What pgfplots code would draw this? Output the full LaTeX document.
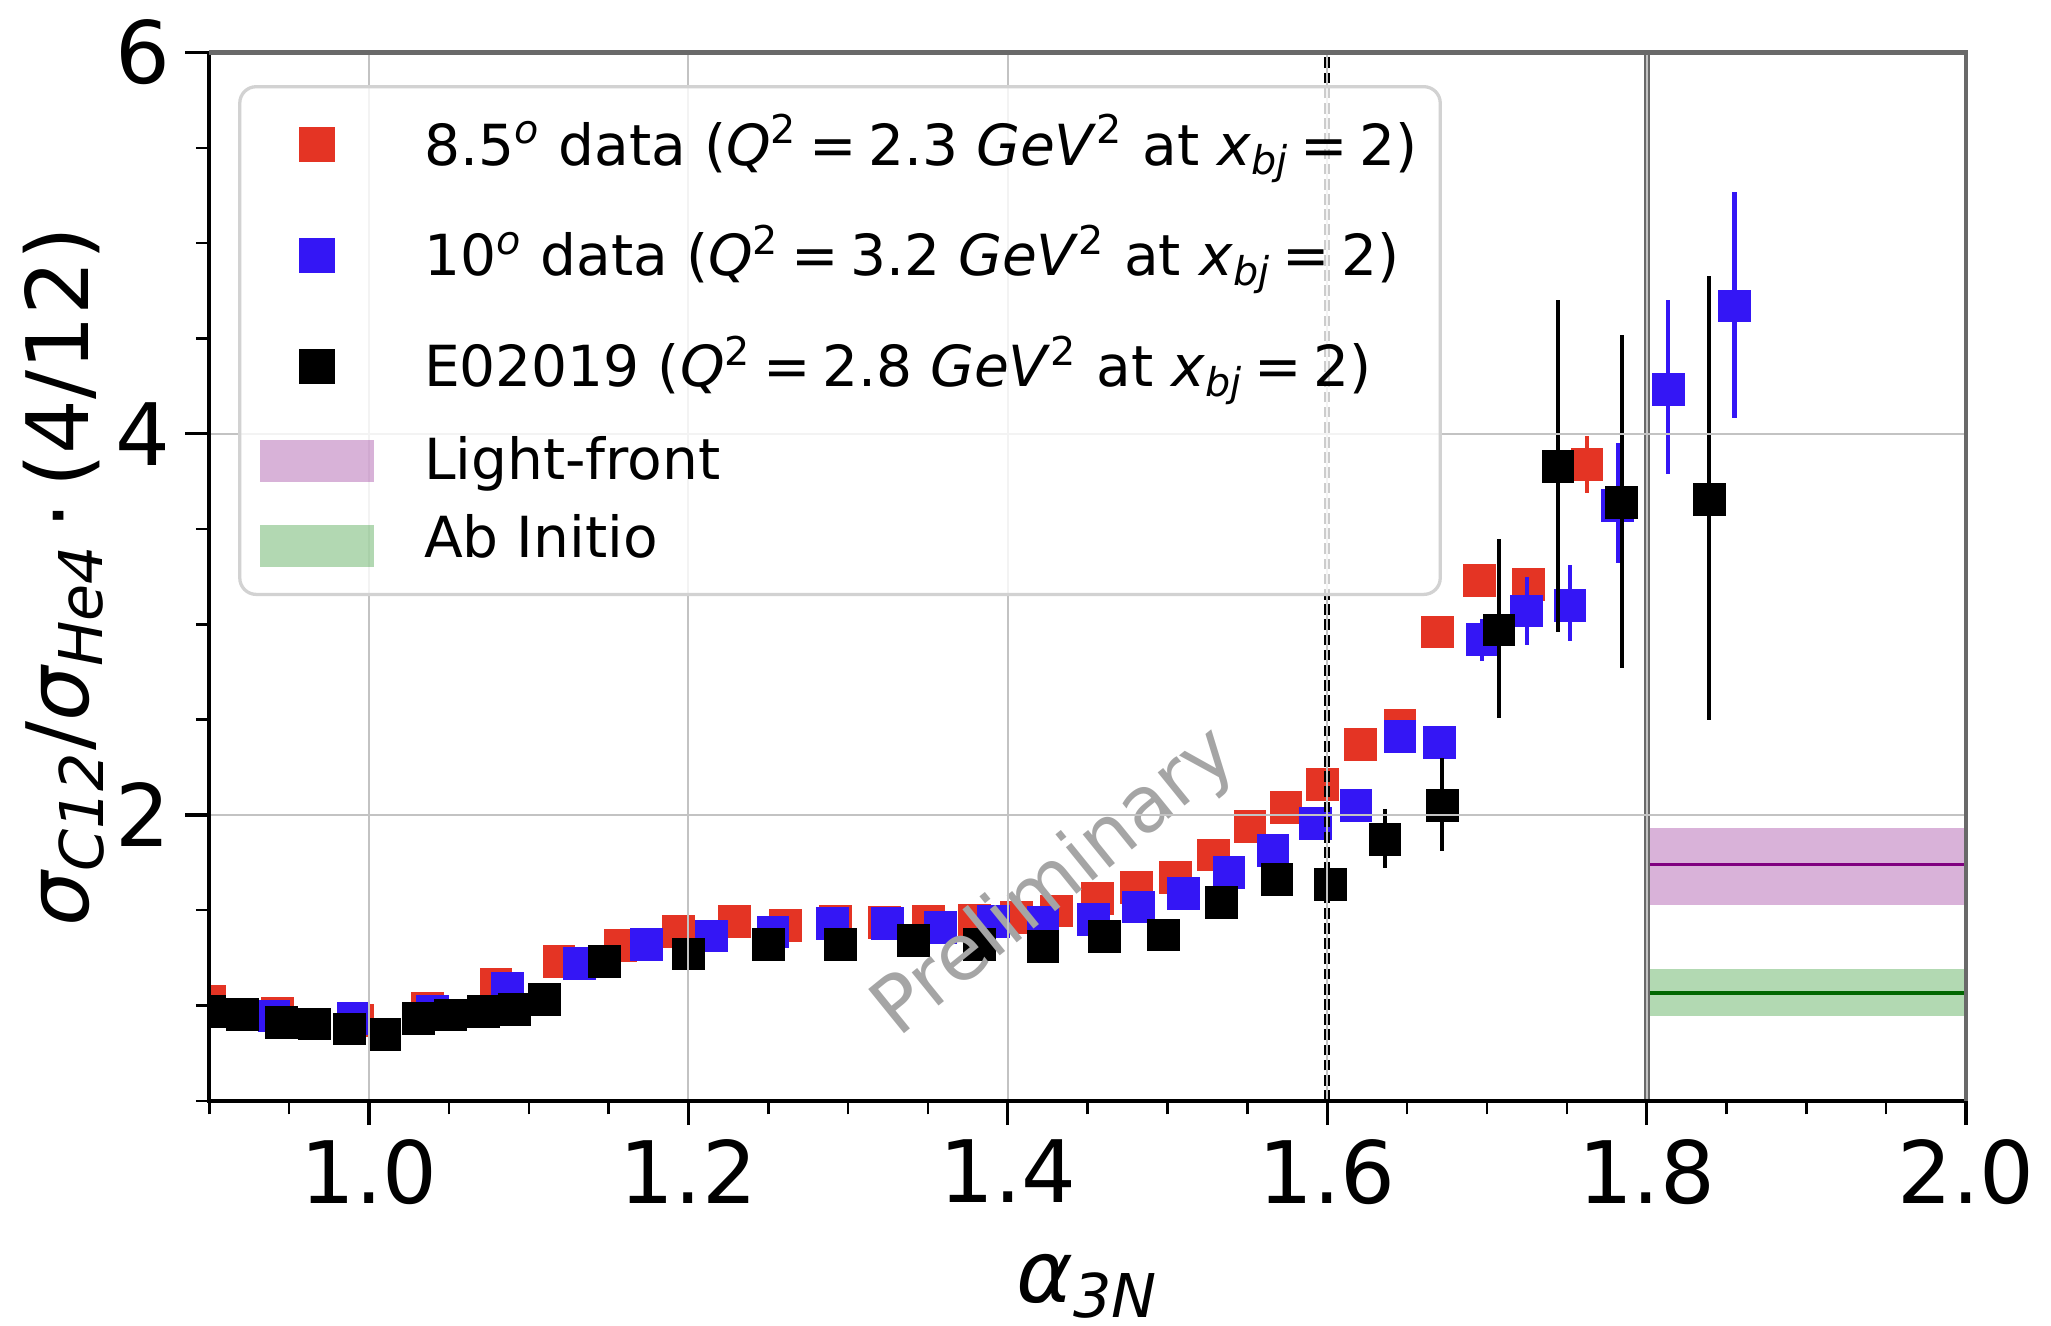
\documentclass[border=0pt]{standalone}
\usepackage{fontspec}
\setmainfont{DejaVu Sans}
\usepackage{pgfplots}
\pgfplotsset{compat=1.18}
\usepackage{pgfplotstable}

\definecolor{cred}{RGB}{228,52,36}
\definecolor{cblue}{RGB}{52,22,245}
\definecolor{lfpurple}{RGB}{128,0,128}
\definecolor{aigreen}{RGB}{0,128,0}
\definecolor{gridgray}{RGB}{195,195,195}
\definecolor{spinegray}{RGB}{105,105,105}

\pgfplotsset{
  sqleg/.style={legend image code/.code={\draw[mark repeat=2,mark phase=2,##1,fill opacity=1,draw opacity=1,sharp corners,mark size=4.1pt] plot coordinates {(0pt,0pt)(13.8pt,0pt)(27.6pt,0pt)};}},
  bandleg/.style={legend image code/.code={\fill[##1,sharp corners] (0pt,-5.1pt) rectangle (27.6pt,5.1pt);}},
}

\pgfplotstableread{
x y ep em
0.9002 1.02 0 0
0.9426 0.96 0 0
0.993 0.92 0 0
1.0367 0.985 0 0
1.0795 1.11 0 0
1.119 1.23 0 0
1.1577 1.315 0 0
1.194 1.39 0 0
1.229 1.44 0 0
1.261 1.42 0 0
1.292 1.44 0 0
1.3226 1.435 0 0
1.3505 1.44 0 0
1.379 1.445 0 0
1.4056 1.46 0 0
1.4306 1.496 0 0
1.456 1.56 0 0
1.4808 1.62 0 0
1.5048 1.67 0 0
1.5288 1.79 0 0
1.5516 1.94 0 0
1.5742 2.04 0 0
1.5968 2.16 0 0
1.621 2.37 0 0
1.6456 2.47 0 0
1.669 2.96 0 0
1.6955 3.23 0.06 0.06
1.726 3.21 0.07 0.07
1.7626 3.84 0.15 0.15
}\redtab

\pgfplotstableread{
x y ep em
0.9405 0.945 0 0
0.99 0.93 0 0
1.04 0.97 0 0
1.0865 1.09 0 0
1.132 1.22 0 0
1.1735 1.32 0 0
1.2147 1.365 0 0
1.253 1.386 0 0
1.29 1.43 0 0
1.3245 1.43 0 0
1.358 1.41 0 0
1.391 1.44 0 0
1.422 1.435 0 0
1.4536 1.45 0 0
1.482 1.517 0 0
1.51 1.587 0 0
1.5385 1.70 0 0
1.566 1.815 0 0
1.5926 1.955 0 0
1.618 2.05 0 0
1.6456 2.41 0 0
1.6705 2.38 0 0
1.697 2.92 0.11 0.11
1.725 3.07 0.18 0.18
1.752 3.10 0.21 0.19
1.782 3.625 0.325 0.305
1.8136 4.23 0.47 0.44
1.855 4.67 0.60 0.59
}\bluetab

\pgfplotstableread{
x y ep em
0.9002 0.97 0 0
0.921 0.955 0 0
0.945 0.91 0 0
0.9656 0.903 0 0
0.988 0.877 0 0
1.0095 0.85 0 0
1.031 0.93 0 0
1.051 0.95 0 0
1.0715 0.97 0 0
1.091 0.98 0 0
1.11 1.03 0 0
1.1475 1.23 0 0
1.2 1.27 0 0
1.2502 1.318 0 0
1.295 1.318 0 0
1.341 1.34 0 0
1.3825 1.32 0 0
1.422 1.31 0 0
1.4605 1.36 0 0
1.4975 1.37 0 0
1.534 1.54 0 0
1.5685 1.66 0 0
1.602 1.636 0 0
1.6362 1.87 0.16 0.15
1.672 2.05 0.25 0.24
1.7075 2.97 0.48 0.46
1.7445 3.83 0.87 0.87
1.7845 3.64 0.88 0.87
1.8393 3.656 1.17 1.16
}\blacktab

\newcommand{\legtxt}[1]{\rule[-8.5pt]{0pt}{27pt}#1}
\newcommand{\legtxtb}[1]{\rule[-5pt]{0pt}{19pt}#1}
\newcommand{\legtxtc}[1]{\rule[-8.5pt]{0pt}{22.5pt}#1}
\newcommand{\eq}{\hspace{0.2em}=\hspace{0.2em}}

\begin{document}
\begin{tikzpicture}
\useasboundingbox (-51pt,-54.8pt) rectangle (448.7pt,268.2pt);
\begin{axis}[
  name=ax, at={(0,0)}, anchor=south west,
  scale only axis, width=428pt, height=255.4pt,
  xmin=0.9, xmax=2.0, ymin=0.5, ymax=6,
  axis on top,
  clip marker paths=true,
  xtick={1.0,1.2,1.4,1.6,1.8,2.0},
  minor xtick={0.9,0.95,1.05,1.1,1.15,1.25,1.3,1.35,1.45,1.5,1.55,1.65,1.7,1.75,1.85,1.9,1.95},
  ytick={2,4,6},
  minor ytick={0.5,1,1.5,2.5,3,3.5,4.5,5,5.5},
  xtick pos=bottom, ytick pos=left,
  tick align=outside,
  major tick length=5.9pt, minor tick length=3.3pt,
  every major tick/.style={black, line width=0.8pt},
  every minor tick/.style={black, line width=0.6pt},
  grid=major,
  major grid style={gridgray, line width=0.5pt},
  axis line style={black, line width=0.9pt},
  tick label style={font=\fontsize{21}{25}\selectfont},
  /pgf/number format/assume math mode=true,
  xticklabel style={/pgf/number format/.cd, fixed, fixed zerofill, precision=1},
  yticklabel style={/pgf/number format/.cd, fixed, precision=0},
  xlabel={{\itshape α}\textsubscript{\itshape 3N}},
  ylabel={{\itshape σ}\textsubscript{\itshape C12}/{\itshape σ}\textsubscript{\itshape He4}\,·\,(4/12)},
  label style={font=\fontsize{21}{25}\selectfont},
  xlabel style={at={(axis description cs:0.5,-0.177)}, anchor=center, inner sep=0pt},
  ylabel style={at={(axis description cs:-0.083,0.5)}, anchor=center, inner sep=0pt},
  legend style={at={(axis description cs:0.0164,0.969)}, anchor=north west,
    draw=gray!35, line width=0.8pt, rounded corners=4pt,
    fill=white, fill opacity=0.8, text opacity=1,
    font=\fontsize{13.8}{16}\selectfont,
    inner xsep=5pt, inner ysep=0.6pt, row sep=0pt, column sep=11.8pt,
    nodes={inner xsep=0.5pt, inner ysep=0pt, text depth={}}},
  legend cell align=left,
]
\addplot[only marks, mark=square*, mark size=3.8pt, color=cred,
  mark options={line width=0.4pt}, sqleg,
  error bars/.cd, y dir=both, y explicit, error mark=none,
  error bar style={line width=1pt, cred}]
  table[x=x, y=y, y error plus=ep, y error minus=em] {\redtab};
\addlegendentry{\legtxt{8.5\textsuperscript{\itshape o} data (\textit{Q}\textsuperscript{2}\eq 2.3 \textit{GeV}\textsuperscript{2} at \textit{x}\textsubscript{\itshape bj}\eq 2)}}

\addplot[only marks, mark=square*, mark size=3.8pt, color=cblue,
  mark options={line width=0.4pt}, sqleg,
  error bars/.cd, y dir=both, y explicit, error mark=none,
  error bar style={line width=1pt, cblue}]
  table[x=x, y=y, y error plus=ep, y error minus=em] {\bluetab};
\addlegendentry{\legtxt{10\textsuperscript{\itshape o} data (\textit{Q}\textsuperscript{2}\eq 3.2 \textit{GeV}\textsuperscript{2} at \textit{x}\textsubscript{\itshape bj}\eq 2)}}

\addplot[only marks, mark=square*, mark size=3.8pt, color=black,
  mark options={line width=0.4pt}, sqleg,
  error bars/.cd, y dir=both, y explicit, error mark=none,
  error bar style={line width=1pt, black}]
  table[x=x, y=y, y error plus=ep, y error minus=em] {\blacktab};
\addlegendentry{\legtxt{E02019 (\textit{Q}\textsuperscript{2}\eq 2.8 \textit{GeV}\textsuperscript{2} at \textit{x}\textsubscript{\itshape bj}\eq 2)}}

\addplot[draw=none, fill=lfpurple, fill opacity=0.3, bandleg]
  coordinates {(1.8,1.53) (2.0,1.53) (2.0,1.93) (1.8,1.93)} -- cycle;
\addlegendentry{\legtxtb{Light-front}}

\addplot[draw=none, fill=aigreen, fill opacity=0.3, bandleg]
  coordinates {(1.8,0.945) (2.0,0.945) (2.0,1.19) (1.8,1.19)} -- cycle;
\addlegendentry{\legtxtc{Ab Initio}}

\addplot[lfpurple, line width=0.9pt, forget plot] coordinates {(1.8,1.74) (2.0,1.74)};
\addplot[aigreen!80!black, line width=0.9pt, forget plot] coordinates {(1.8,1.066) (2.0,1.066)};

\addplot[black, line width=1.4pt, dash pattern=on 2.6pt off 1.1pt, forget plot] coordinates {(1.6,0.5) (1.6,6)};
\addplot[spinegray, line width=1.5pt, forget plot] coordinates {(1.8,0.5) (1.8,6)};

\node[rotate=39, text={rgb,255:red,165;green,165;blue,165}, font=\fontsize{19}{23}\selectfont] at (axis cs:1.43,1.64) {Preliminary};
\end{axis}
\draw[spinegray, line width=1pt] (ax.north west) -- (ax.north east) -- (ax.south east);
\end{tikzpicture}
\end{document}
